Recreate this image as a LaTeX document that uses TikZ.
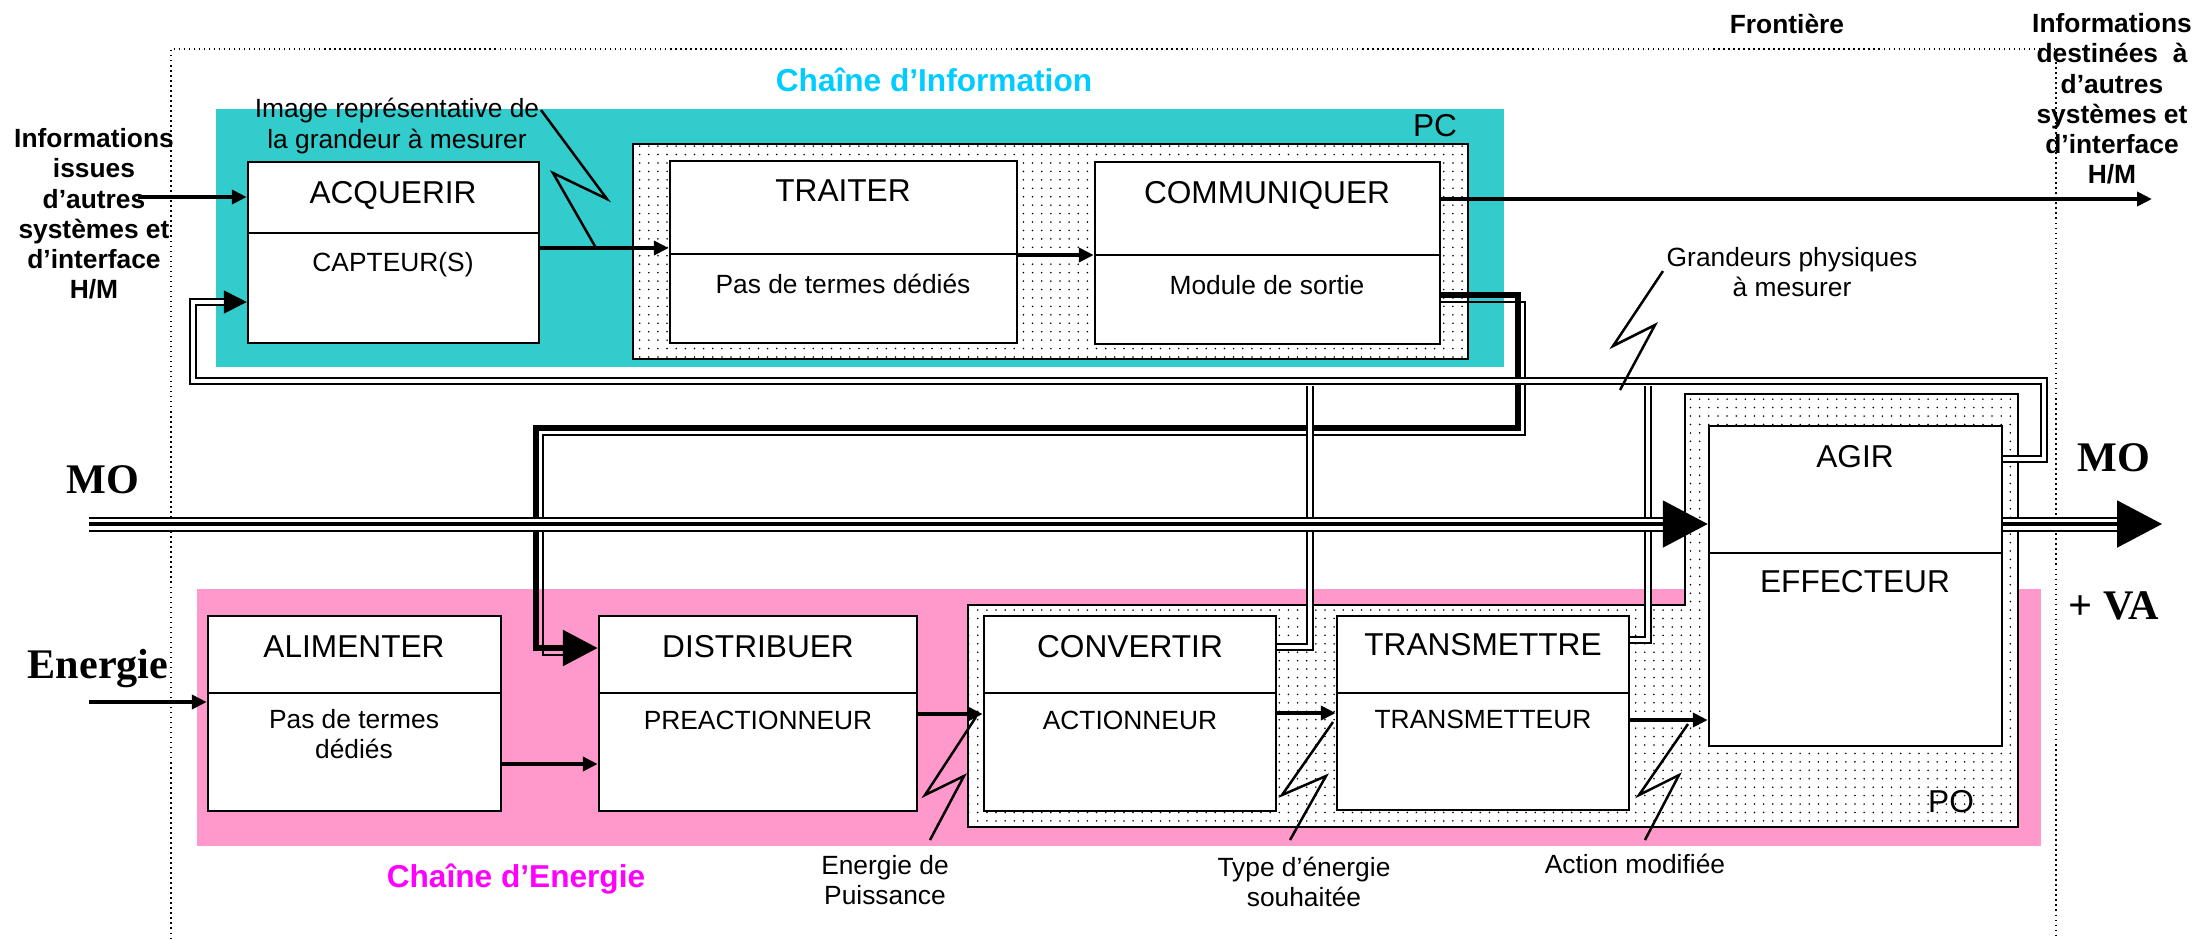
\documentclass[tikz,border=0pt]{standalone}
\usepackage{fontspec}
\setmainfont{Liberation Sans}
\newfontfamily\timesfont{Liberation Serif}
\usepackage{xcolor}
\usepackage{tikz}
\usetikzlibrary{arrows.meta,patterns}

\definecolor{cyanpc}{RGB}{51,204,204}
\definecolor{rosepo}{RGB}{255,153,204}
\definecolor{bleuinfo}{RGB}{0,204,255}
\definecolor{magentaen}{RGB}{255,0,255}

\pgfdeclarepatternformonly{pointilles}{\pgfqpoint{-0.5pt}{-0.5pt}}{\pgfqpoint{0.5pt}{0.5pt}}{\pgfqpoint{2.6pt}{2.4pt}}{%
  \pgfpathcircle{\pgfqpoint{0pt}{0pt}}{0.25pt}%
  \pgfusepath{fill}%
}

\tikzset{
  fonction/.style={
    draw,
    fill = white,
    line width = 0.25mm,
    inner sep = 0pt,
    shape = rectangle
  },
  separ/.style={
    line width = 0.25mm
  },
  zone/.style={
    draw,
    line width = 0.2mm,
    preaction = {fill=white},
    pattern = pointilles
  },
  titre/.style={
    font = \fontsize{9}{10}\selectfont,
    text height = 1.5ex,
    text depth = .25ex,
    inner sep = 0pt
  },
  soustitre/.style={
    font = \fontsize{7.5}{8.7}\selectfont,
    text height = 1.5ex,
    text depth = .25ex,
    inner sep = 0pt
  },
  etiquette/.style={
    font = \fontsize{7.5}{8.7}\selectfont,
    align = center,
    inner sep = 0pt
  },
  infos/.style={
    font = \bfseries\fontsize{7.5}{8.6}\selectfont,
    align = center,
    inner sep = 0pt
  },
  chaine/.style={
    font = \bfseries\fontsize{9}{10}\selectfont,
    text height = 1.5ex,
    text depth = .25ex,
    inner sep = 0pt
  },
  gros/.style={
    font = \timesfont\bfseries\fontsize{12}{14}\selectfont,
    text height = 1.5ex,
    text depth = .25ex,
    inner sep = 0pt
  },
  flux/.style={
    line width = 0.4mm,
    -{Triangle[length=1.5mm,width=1.4mm]}
  },
  ordre/.style={
    line width = 0.6mm,
    -{Triangle[length=3.5mm,width=3.5mm]}
  },
  ordrefin/.style={
    line width = 0.15mm
  },
  retour/.style={
    double,
    double distance = 0.4mm,
    line width = 0.17mm
  },
  matiere/.style={
    double,
    double distance = 1.1mm,
    line width = 0.2mm,
    -{Triangle[length=4.5mm,width=4.7mm,fill=black]}
  },
  matierecoeur/.style={
    line width = 0.4mm,
    shorten > = 4.4mm
  },
  eclair/.style={
    line width = 0.25mm
  },
  frontiere/.style={
    line width = 0.15mm,
    densely dotted
  }
}

\begin{document}
\begin{tikzpicture}[x=0.1mm,y=-0.1mm]
  \useasboundingbox (0,0) rectangle (2199,939);

  % fonds des deux chaines
  \fill[cyanpc] (216,109) rectangle (1504,367);
  \fill[rosepo] (197,589) rectangle (2041,846);
  \draw[zone] (633,144) rectangle (1468,359);
  \draw[zone] (968,605) -- (1685,605) -- (1685,394) -- (2018,394) -- (2018,827) -- (968,827) -- cycle;

  \draw[frontiere] (171,939) -- (171,49) -- (2056,49) -- (2056,939);

  % chaine d'information
  \node[fonction, minimum width=29.1mm, minimum height=18.1mm] (acq) at (393.5,252.5) {};
  \node[fonction, minimum width=34.7mm, minimum height=18.2mm] (tra) at (843.5,252) {};
  \node[fonction, minimum width=34.5mm, minimum height=18.2mm] (com) at (1267.5,253) {};
  \draw[separ] (acq.west |- 0,233) -- (acq.east |- 0,233);
  \draw[separ] (tra.west |- 0,254) -- (tra.east |- 0,254);
  \draw[separ] (com.west |- 0,255) -- (com.east |- 0,255);

  % chaine d'energie
  \node[fonction, minimum width=29.3mm, minimum height=19.5mm] (ali) at (354.5,713.5) {};
  \node[fonction, minimum width=31.8mm, minimum height=19.5mm] (dis) at (758,713.5) {};
  \node[fonction, minimum width=29.2mm, minimum height=19.5mm] (con) at (1130,713.5) {};
  \node[fonction, minimum width=29.2mm, minimum height=19.4mm] (trm) at (1483,713) {};
  \node[fonction, minimum width=29.3mm, minimum height=32mm] (agi) at (1855.5,586) {};
  \foreach \b in {ali,dis,con,trm}
    \draw[separ] (\b.west |- 0,693) -- (\b.east |- 0,693);
  \draw[separ] (agi.west |- 0,553) -- (agi.east |- 0,553);

  \node[titre] (acq-t) at (393,192) {ACQUERIR};
  \node[soustitre] (acq-s) at (393,260) {CAPTEUR(S)};
  \node[titre] (tra-t) at (843,190) {TRAITER};
  \node[soustitre] (tra-s) at (843,282) {Pas de termes dédiés};
  \node[titre] (com-t) at (1267,192) {COMMUNIQUER};
  \node[soustitre] (com-s) at (1267,283) {Module de sortie};
  \node[titre] (ali-t) at (354,646) {ALIMENTER};
  \node[etiquette] (ali-s) at (354,734) {Pas de termes\\dédiés};
  \node[titre] (dis-t) at (758,646) {DISTRIBUER};
  \node[soustitre] (dis-s) at (758,718) {PREACTIONNEUR};
  \node[titre] (con-t) at (1130,646) {CONVERTIR};
  \node[soustitre] (con-s) at (1130,718) {ACTIONNEUR};
  \node[titre] (trm-t) at (1483,644) {TRANSMETTRE};
  \node[soustitre] (trm-s) at (1483,717) {TRANSMETTEUR};
  \node[titre] (agi-t) at (1855,456) {AGIR};
  \node[titre] (agi-s) at (1855,581) {EFFECTEUR};

  % flux d'information et d'energie
  \coordinate (infoin) at (138,197);
  \coordinate (infoout) at (2152,199);
  \coordinate (enin) at (89,702);
  \draw[flux] (infoin) -- (infoin -| acq.west);
  \draw[flux] (acq.east |- 0,248) -- (tra.west |- 0,248);
  \draw[flux] (tra.east |- 0,255) -- (com.west |- 0,255);
  \draw[flux] (com.east |- infoout) -- (infoout);
  \draw[flux] (enin) -- (enin -| ali.west);
  \draw[flux] (ali.east |- 0,764) -- (dis.west |- 0,764);
  \draw[flux] (dis.east |- 0,714) -- (con.west |- 0,714);
  \draw[flux] (con.east |- 0,713) -- (trm.west |- 0,713);
  \draw[flux] (trm.east |- 0,720) -- (agi.west |- 0,720);

  % ordres
  \draw[ordrefin] (com.east |- 0,302) -| (1525,435) -| (543,655) -- (565,655);
  \draw[ordre] (com.east |- 0,295) -| (1518,428) -| (536,648) -- (dis.west |- 0,648);

  % comptes rendus
  \draw[retour] (con.east |- 0,647) -| (1310,386);
  \draw[retour] (trm.east |- 0,640) -| (1648,386);
  \draw[retour, -{Triangle[length=2.3mm,width=2.3mm,fill=black]}] (agi.east |- 0,459) -| (2044,381) -| (193,302) -- (acq.west |- 0,302);

  % matiere d'oeuvre
  \coordinate (moin) at (89,524);
  \coordinate (moout) at (2162,524);
  \draw[matiere] (moin) -- (agi.west |- moin);
  \draw[matierecoeur] (moin) -- (agi.west |- moin);
  \draw[matiere] (agi.east |- moout) -- (moout);
  \draw[matierecoeur] (agi.east |- moout) -- (moout);

  % eclairs
  \draw[eclair] (541,110) -- (607,199) -- (553,173) -- (596,248);
  \draw[eclair] (1663,271) -- (1613,346) -- (1655,325) -- (1620,390);
  \draw[eclair] (930,840) -- (964,776) -- (925,795) -- (976,717);
  \draw[eclair] (1290,840) -- (1326,776) -- (1282,795) -- (1333,722);
  \draw[eclair] (1645,840) -- (1679,775) -- (1639,795) -- (1688,724);

  % textes
  \node[etiquette] (img) at (397,126) {Image représentative de\\la grandeur à mesurer};
  \node[etiquette] (gph) at (1792,272) {Grandeurs physiques\\à mesurer};
  \node[etiquette] (enp) at (885,880) {Energie de\\Puissance};
  \node[etiquette] (typ) at (1304,882) {Type d’énergie\\souhaitée};
  \node[etiquette] (act) at (1635,864) {Action modifiée};
  \node[infos] (infg) at (94,214) {Informations\\issues\\d’autres\\systèmes et\\d’interface\\H/M};
  \node[infos] (infd) at (2112,99) {Informations\\destinées\ \ à\\d’autres\\systèmes et\\d’interface\\H/M};
  \node[infos] (front) at (1787,24) {Frontière};
  \node[chaine, text=bleuinfo] (chi) at (934,80) {Chaîne d’Information};
  \node[chaine, text=magentaen] (che) at (516,876) {Chaîne d’Energie};
  \node[titre] (pc) at (1435,125) {PC};
  \node[titre] (po) at (1951,801) {PO};
  \node[gros] (mog) at (103,482) {MO};
  \node[gros] (mod) at (2114,460) {MO};
  \node[gros] (va) at (2114,608) {+ VA};
  \node[gros] (ene) at (98,667) {Energie};
\end{tikzpicture}
\end{document}
